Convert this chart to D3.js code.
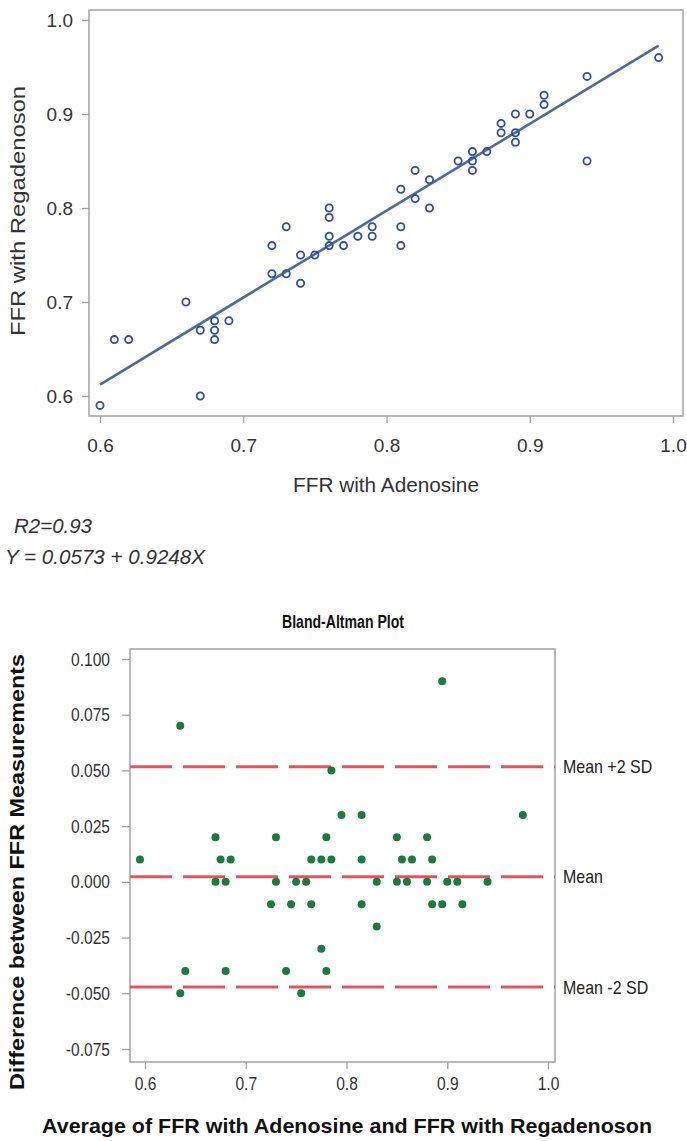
<!DOCTYPE html>
<html lang="en">
<head>
<meta charset="UTF-8" />
<title>FFR with Adenosine vs Regadenoson</title>
<script src="https://d3js.org/d3.v7.min.js"></script>
<style>
  body { margin: 0; background: #fff; }
  svg { display: block; font-family: 'Liberation Sans', Arial, sans-serif; }
  .frame { fill: none; stroke: #a3a3a3; stroke-width: 1.5; }
  .axis .tick line { stroke: #a3a3a3; stroke-width: 1.3; }
  .axis text { fill: #333; }
</style>
</head>
<body>
<svg id="chart" width="687" height="1141"></svg>
<script>
// paired FFR readings, one entry per lesion
const adenosine   = [0.60, 0.67, 0.61, 0.62, 0.68, 0.68, 0.69, 0.67, 0.68, 0.66,
                     0.74, 0.73, 0.72, 0.74, 0.75, 0.72, 0.76, 0.77, 0.81, 0.76,
                     0.78, 0.79, 0.73, 0.79, 0.81, 0.76, 0.76, 0.83, 0.82, 0.81,
                     0.83, 0.82, 0.86, 0.85, 0.86, 0.94, 0.86, 0.87, 0.89, 0.88,
                     0.89, 0.88, 0.89, 0.90, 0.91, 0.91, 0.94, 0.99];
const regadenoson = [0.59, 0.60, 0.66, 0.66, 0.66, 0.67, 0.68, 0.67, 0.68, 0.70,
                     0.72, 0.73, 0.73, 0.75, 0.75, 0.76, 0.76, 0.76, 0.76, 0.77,
                     0.77, 0.77, 0.78, 0.78, 0.78, 0.79, 0.80, 0.80, 0.81, 0.82,
                     0.83, 0.84, 0.84, 0.85, 0.85, 0.85, 0.86, 0.86, 0.87, 0.88,
                     0.88, 0.89, 0.90, 0.90, 0.91, 0.92, 0.94, 0.96];

const fitIntercept = 0.0573;
const fitSlope = 0.9248;
const rSquared = 0.93;

const ffrTicks = [0.6, 0.7, 0.8, 0.9, 1.0];
const baXTicks = [0.6, 0.7, 0.8, 0.9, 1.0];
const baYTicks = [0.100, 0.075, 0.050, 0.025, 0.000, -0.025, -0.050, -0.075];

const limitLabels = ["Mean +2 SD", "Mean", "Mean -2 SD"];
const limitValues = [0.0517, 0.0023, -0.0472];

const svg = d3.select("#chart");

// no narrow face installed, so squeeze the regular one
function condense(sel, k) {
  sel.each(function () {
    const w = this.getComputedTextLength();
    d3.select(this).attr("textLength", w * k).attr("lengthAdjust", "spacingAndGlyphs");
  });
}

// ---------- scatter with regression line ----------
const scBox = { left: 89, top: 10, right: 683, bottom: 416 };
const x1 = d3.scaleLinear().domain([0.6, 1.0]).range([100, 673]);
const y1 = d3.scaleLinear().domain([0.6, 1.0]).range([396, 20]);

svg.append("rect").attr("class", "frame")
  .attr("x", scBox.left).attr("y", scBox.top)
  .attr("width", scBox.right - scBox.left).attr("height", scBox.bottom - scBox.top);

const fmt1 = d3.format(".1f");
svg.append("g").attr("class", "axis")
  .attr("transform", `translate(0,${scBox.bottom})`)
  .call(d3.axisBottom(x1).tickValues(ffrTicks).tickFormat(fmt1).tickSize(7).tickPadding(16).tickSizeOuter(0))
  .call(g => g.select(".domain").remove())
  .selectAll("text").style("font-size", "19px");

svg.append("g").attr("class", "axis")
  .attr("transform", `translate(${scBox.left},0)`)
  .call(d3.axisLeft(y1).tickValues(ffrTicks).tickFormat(fmt1).tickSize(7).tickPadding(9).tickSizeOuter(0))
  .call(g => g.select(".domain").remove())
  .selectAll("text").style("font-size", "19px");

const pairs = adenosine.map((a, i) => ({ a, r: regadenoson[i] }));
const fitX = d3.extent(adenosine);
svg.append("path")
  .datum(fitX.map(v => [v, fitIntercept + fitSlope * v]))
  .attr("fill", "none").attr("stroke", "#4a6c9b").attr("stroke-width", 2.6)
  .attr("d", d3.line().x(d => x1(d[0])).y(d => y1(d[1])));

svg.append("g").selectAll("circle")
  .data(pairs).join("circle")
  .attr("cx", d => x1(d.a)).attr("cy", d => y1(d.r)).attr("r", 3.6)
  .attr("fill", "none").attr("stroke", "#2f4ea3").attr("stroke-width", 1.8);

svg.append("text")
  .attr("x", 386).attr("y", 492)
  .attr("text-anchor", "middle").style("font-size", "20px").attr("fill", "#333")
  .attr("textLength", 186).attr("lengthAdjust", "spacingAndGlyphs")
  .text("FFR with Adenosine");

svg.append("text")
  .attr("transform", "translate(25,211) rotate(-90)")
  .attr("text-anchor", "middle").style("font-size", "20px").attr("fill", "#333")
  .attr("textLength", 250).attr("lengthAdjust", "spacingAndGlyphs")
  .text("FFR with Regadenoson");

svg.append("text")
  .attr("x", 14).attr("y", 533)
  .style("font-size", "20px").style("font-style", "italic").attr("fill", "#333")
  .attr("textLength", 78).attr("lengthAdjust", "spacingAndGlyphs")
  .text(`R2=${rSquared}`);

svg.append("text")
  .attr("x", 5).attr("y", 564)
  .style("font-size", "20px").style("font-style", "italic").attr("fill", "#333")
  .attr("textLength", 200).attr("lengthAdjust", "spacingAndGlyphs")
  .text(`Y = ${fitIntercept} + ${fitSlope}X`);

// ---------- Bland-Altman ----------
const baBox = { left: 130, top: 649, right: 555, bottom: 1062 };
const x2 = d3.scaleLinear().domain([0.6, 1.0]).range([145, 548]);
const y2 = d3.scaleLinear().domain([-0.075, 0.100]).range([1049, 659]);
const fmt3 = d => d3.format(".3f")(d).replace("\u2212", "-");

svg.append("text")
  .attr("x", 343).attr("y", 628).attr("text-anchor", "middle")
  .style("font-size", "19px").style("font-weight", "bold").attr("fill", "#111")
  .attr("textLength", 122).attr("lengthAdjust", "spacingAndGlyphs")
  .text("Bland-Altman Plot");

svg.append("rect").attr("class", "frame")
  .attr("x", baBox.left).attr("y", baBox.top)
  .attr("width", baBox.right - baBox.left).attr("height", baBox.bottom - baBox.top);

svg.append("g").attr("class", "axis")
  .attr("transform", `translate(0,${baBox.bottom})`)
  .call(d3.axisBottom(x2).tickValues(baXTicks).tickFormat(fmt1).tickSize(7).tickPadding(8).tickSizeOuter(0))
  .call(g => g.select(".domain").remove())
  .selectAll("text").style("font-size", "19px").call(condense, 0.82);

svg.append("g").attr("class", "axis")
  .attr("transform", `translate(${baBox.left},0)`)
  .call(d3.axisLeft(y2).tickValues(baYTicks).tickFormat(fmt3).tickSize(8).tickPadding(12).tickSizeOuter(0))
  .call(g => g.select(".domain").remove())
  .selectAll("text").style("font-size", "19px").call(condense, 0.82);

const limits = limitValues.map((v, i) => ({ v, label: limitLabels[i] }));
svg.append("g").selectAll("line")
  .data(limits).join("line")
  .attr("x1", baBox.left).attr("x2", baBox.right)
  .attr("y1", d => y2(d.v)).attr("y2", d => y2(d.v))
  .attr("stroke", "#e4545f").attr("stroke-width", 3)
  .attr("stroke-dasharray", "42,11");

svg.append("g").selectAll("text")
  .data(limits).join("text")
  .attr("x", baBox.right + 8).attr("y", d => y2(d.v)).attr("dy", "0.35em")
  .style("font-size", "19px").attr("fill", "#222")
  .text(d => d.label)
  .call(condense, 0.84);

svg.append("g").selectAll("circle")
  .data(pairs).join("circle")
  .attr("cx", d => x2((d.a + d.r) / 2)).attr("cy", d => y2(d.a - d.r)).attr("r", 4)
  .attr("fill", "#1b7b3d");

svg.append("text")
  .attr("x", 347).attr("y", 1133).attr("text-anchor", "middle")
  .attr("textLength", 610).attr("lengthAdjust", "spacingAndGlyphs")
  .style("font-size", "21px").style("font-weight", "bold").attr("fill", "#111")
  .text("Average of FFR with Adenosine  and FFR with Regadenoson");

svg.append("text")
  .attr("transform", "translate(24,872) rotate(-90)").attr("text-anchor", "middle")
  .attr("textLength", 436).attr("lengthAdjust", "spacingAndGlyphs")
  .style("font-size", "21px").style("font-weight", "bold").attr("fill", "#111")
  .text("Difference between FFR Measurements");
</script>
</body>
</html>
